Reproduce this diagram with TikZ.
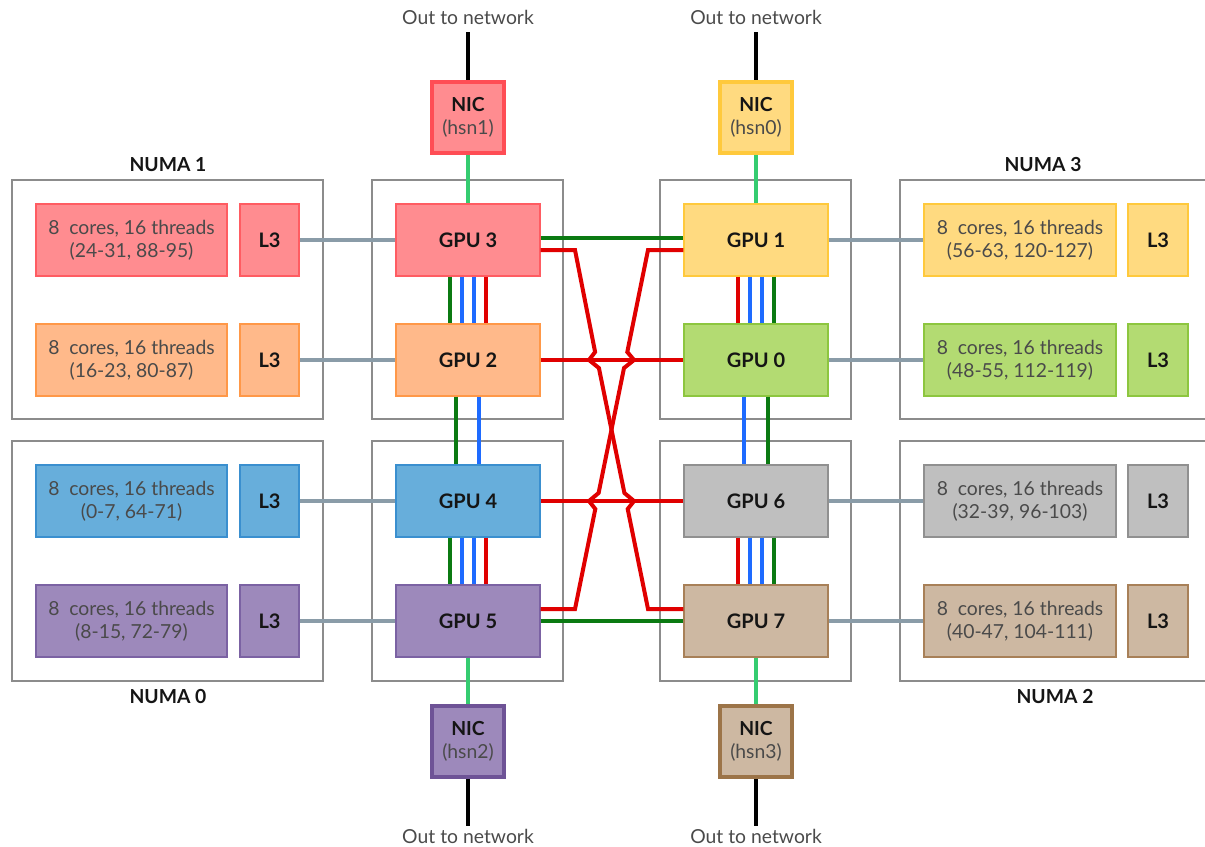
\documentclass[tikz,border=0pt]{standalone}
\usepackage{fontspec}
\setmainfont{Lato}
\usepackage{xcolor}
\usepackage{tikz}
\usetikzlibrary{positioning}
\definecolor{RedFill}{HTML}{FF8C90}
\definecolor{RedLine}{HTML}{FF5C62}
\definecolor{OrangeFill}{HTML}{FFB98A}
\definecolor{OrangeLine}{HTML}{FF9848}
\definecolor{BlueFill}{HTML}{67AEDB}
\definecolor{BlueLine}{HTML}{3A8FCF}
\definecolor{PurpleFill}{HTML}{9D89BB}
\definecolor{PurpleLine}{HTML}{7B62A3}
\definecolor{YellowFill}{HTML}{FFDA80}
\definecolor{YellowLine}{HTML}{FFC93C}
\definecolor{GreenFill}{HTML}{B3DB72}
\definecolor{GreenLine}{HTML}{8DC63F}
\definecolor{GrayFill}{HTML}{BFBFBF}
\definecolor{GrayLine}{HTML}{909090}
\definecolor{TanFill}{HTML}{CDB8A2}
\definecolor{TanLine}{HTML}{A88058}
\definecolor{RedNic}{HTML}{FF4D55}
\definecolor{PurpleNic}{HTML}{6E5396}
\definecolor{TanNic}{HTML}{9C7448}
\definecolor{LinkGreen}{HTML}{0B7A12}
\definecolor{LinkBlue}{HTML}{1E6BFF}
\definecolor{LinkRed}{HTML}{E00000}
\definecolor{NicGreen}{HTML}{35CC70}
\definecolor{LinkGray}{HTML}{8A9CA8}
\definecolor{FrameGray}{HTML}{8C8C8C}
\definecolor{CoreText}{HTML}{4A4A4A}
\definecolor{Ink}{HTML}{151515}

\begin{document}
\begin{tikzpicture}[x=0.75pt,y=-0.75pt,
  every node/.style={font=\fontsize{14.5}{17}\selectfont,text=Ink},
  unit/.style={draw,line width=1.5pt,inner sep=0pt,minimum height=53.5pt,align=center},
  coresbox/.style={unit,minimum width=143.5pt,text=CoreText},
  cachebox/.style={unit,minimum width=44.5pt,font=\fontsize{15}{17}\selectfont\bfseries},
  gpubox/.style={unit,minimum width=107.5pt,font=\fontsize{15}{17}\selectfont\bfseries},
  nicbox/.style={draw,line width=3pt,inner sep=0pt,minimum width=54pt,minimum height=53pt,align=center},
  frame/.style={draw=FrameGray,line width=1.5pt},
  numalabel/.style={font=\fontsize{14.5}{17}\selectfont\bfseries},
  netlabel/.style={text=CoreText},
  glink/.style={draw=LinkGreen,line width=3pt},
  blink/.style={draw=LinkBlue,line width=3pt},
  rlink/.style={draw=LinkRed,line width=3pt},
  niclink/.style={draw=NicGreen,line width=3pt},
  cpulink/.style={draw=LinkGray,line width=2.5pt},
  netlink/.style={draw=black,line width=3pt}]
  \useasboundingbox (0,0) rectangle (1205,846);

  % frames
  \draw[frame] (12,180) rectangle (323,419);
  \draw[frame] (12,441) rectangle (323,681);
  \draw[frame] (372,180) rectangle (563,419);
  \draw[frame] (372,441) rectangle (563,681);
  \draw[frame] (660,180) rectangle (851,419);
  \draw[frame] (660,441) rectangle (851,681);
  \draw[frame] (1210,180) -- (900,180) -- (900,419) -- (1210,419);
  \draw[frame] (1210,441) -- (900,441) -- (900,681) -- (1210,681);
  \node[numalabel] (numa1) at (168,165) {NUMA 1};
  \node[numalabel] (numa0) at (168,696) {NUMA 0};
  \node[numalabel] (numa3) at (1043,165) {NUMA 3};
  \node[numalabel] (numa2) at (1055,696) {NUMA 2};

  % cores and caches
  \node[coresbox,fill=RedFill,draw=RedLine] (c3) at (131.5,240) {8~ cores, 16 threads\\(24-31, 88-95)};
  \node[cachebox,fill=RedFill,draw=RedLine] (l3c3) at (269.5,240) {L3};
  \node[coresbox,fill=OrangeFill,draw=OrangeLine] (c2) at (131.5,360) {8~ cores, 16 threads\\(16-23, 80-87)};
  \node[cachebox,fill=OrangeFill,draw=OrangeLine] (l3c2) at (269.5,360) {L3};
  \node[coresbox,fill=BlueFill,draw=BlueLine] (c4) at (131.5,501) {8~ cores, 16 threads\\(0-7, 64-71)};
  \node[cachebox,fill=BlueFill,draw=BlueLine] (l3c4) at (269.5,501) {L3};
  \node[coresbox,fill=PurpleFill,draw=PurpleLine] (c5) at (131.5,621) {8~ cores, 16 threads\\(8-15, 72-79)};
  \node[cachebox,fill=PurpleFill,draw=PurpleLine] (l3c5) at (269.5,621) {L3};
  \node[coresbox,fill=YellowFill,draw=YellowLine] (c1) at (1020,240) {8~ cores, 16 threads\\(56-63, 120-127)};
  \node[cachebox,fill=YellowFill,draw=YellowLine] (l3c1) at (1158,240) {L3};
  \node[coresbox,fill=GreenFill,draw=GreenLine] (c0) at (1020,360) {8~ cores, 16 threads\\(48-55, 112-119)};
  \node[cachebox,fill=GreenFill,draw=GreenLine] (l3c0) at (1158,360) {L3};
  \node[coresbox,fill=GrayFill,draw=GrayLine] (c6) at (1020,501) {8~ cores, 16 threads\\(32-39, 96-103)};
  \node[cachebox,fill=GrayFill,draw=GrayLine] (l3c6) at (1158,501) {L3};
  \node[coresbox,fill=TanFill,draw=TanLine] (c7) at (1020,621) {8~ cores, 16 threads\\(40-47, 104-111)};
  \node[cachebox,fill=TanFill,draw=TanLine] (l3c7) at (1158,621) {L3};

  % gpus
  \node[gpubox,fill=RedFill,draw=RedLine] (g3) at (468,240) {GPU 3};
  \node[gpubox,fill=OrangeFill,draw=OrangeLine] (g2) at (468,360) {GPU 2};
  \node[gpubox,fill=BlueFill,draw=BlueLine] (g4) at (468,501) {GPU 4};
  \node[gpubox,fill=PurpleFill,draw=PurpleLine] (g5) at (468,621) {GPU 5};
  \node[gpubox,fill=YellowFill,draw=YellowLine] (g1) at (756,240) {GPU 1};
  \node[gpubox,fill=GreenFill,draw=GreenLine] (g0) at (756,360) {GPU 0};
  \node[gpubox,fill=GrayFill,draw=GrayLine] (g6) at (756,501) {GPU 6};
  \node[gpubox,fill=TanFill,draw=TanLine] (g7) at (756,621) {GPU 7};

  % nics
  \node[nicbox,fill=RedFill,draw=RedNic] (nic1) at (468,117.5) {\bfseries NIC\\{\color{CoreText}(hsn1)}};
  \node[nicbox,fill=YellowFill,draw=YellowLine] (nic0) at (756,117.5) {\bfseries NIC\\{\color{CoreText}(hsn0)}};
  \node[nicbox,fill=PurpleFill,draw=PurpleNic] (nic2) at (468,741.5) {\bfseries NIC\\{\color{CoreText}(hsn2)}};
  \node[nicbox,fill=TanFill,draw=TanNic] (nic3) at (756,741.5) {\bfseries NIC\\{\color{CoreText}(hsn3)}};
  \node[netlabel] (out1) at (468,17) {Out to network};
  \node[netlabel] (out0) at (756,17) {Out to network};
  \node[netlabel] (out2) at (468,836) {Out to network};
  \node[netlabel] (out3) at (756,836) {Out to network};
  \coordinate (net1) at (468,32);
  \coordinate (net0) at (756,32);
  \coordinate (net2) at (468,826);
  \coordinate (net3) at (756,826);
  \draw[netlink] (net1) -- (nic1.north);
  \draw[netlink] (net0) -- (nic0.north);
  \draw[netlink] (nic2.south) -- (net2);
  \draw[netlink] (nic3.south) -- (net3);
  \draw[niclink] (nic1.south) -- (g3.north);
  \draw[niclink] (nic0.south) -- (g1.north);
  \draw[niclink] (g5.south) -- (nic2.north);
  \draw[niclink] (g7.south) -- (nic3.north);

  % cpu to gpu
  \draw[cpulink] (l3c3.east) -- (g3.west);
  \draw[cpulink] (l3c2.east) -- (g2.west);
  \draw[cpulink] (l3c4.east) -- (g4.west);
  \draw[cpulink] (l3c5.east) -- (g5.west);
  \draw[cpulink] (g1.east) -- (c1.west);
  \draw[cpulink] (g0.east) -- (c0.west);
  \draw[cpulink] (g6.east) -- (c6.west);
  \draw[cpulink] (g7.east) -- (c7.west);

  % gpu to gpu, vertical
  \draw[glink] ([xshift=-13.5pt]g3.south) -- ([xshift=-13.5pt]g2.north);
  \draw[blink] ([xshift=-4.5pt]g3.south) -- ([xshift=-4.5pt]g2.north);
  \draw[blink] ([xshift=4.5pt]g3.south) -- ([xshift=4.5pt]g2.north);
  \draw[rlink] ([xshift=13.5pt]g3.south) -- ([xshift=13.5pt]g2.north);
  \draw[glink] ([xshift=-9pt]g2.south) -- ([xshift=-9pt]g4.north);
  \draw[blink] ([xshift=8.25pt]g2.south) -- ([xshift=8.25pt]g4.north);
  \draw[glink] ([xshift=-13.5pt]g4.south) -- ([xshift=-13.5pt]g5.north);
  \draw[blink] ([xshift=-4.5pt]g4.south) -- ([xshift=-4.5pt]g5.north);
  \draw[blink] ([xshift=4.5pt]g4.south) -- ([xshift=4.5pt]g5.north);
  \draw[rlink] ([xshift=13.5pt]g4.south) -- ([xshift=13.5pt]g5.north);
  \draw[rlink] ([xshift=-13.5pt]g1.south) -- ([xshift=-13.5pt]g0.north);
  \draw[blink] ([xshift=-4.5pt]g1.south) -- ([xshift=-4.5pt]g0.north);
  \draw[blink] ([xshift=4.5pt]g1.south) -- ([xshift=4.5pt]g0.north);
  \draw[glink] ([xshift=13.5pt]g1.south) -- ([xshift=13.5pt]g0.north);
  \draw[blink] ([xshift=-9pt]g0.south) -- ([xshift=-9pt]g6.north);
  \draw[glink] ([xshift=9pt]g0.south) -- ([xshift=9pt]g6.north);
  \draw[rlink] ([xshift=-13.5pt]g6.south) -- ([xshift=-13.5pt]g7.north);
  \draw[blink] ([xshift=-4.5pt]g6.south) -- ([xshift=-4.5pt]g7.north);
  \draw[blink] ([xshift=4.5pt]g6.south) -- ([xshift=4.5pt]g7.north);
  \draw[glink] ([xshift=13.5pt]g6.south) -- ([xshift=13.5pt]g7.north);

  % gpu to gpu, across
  \draw[glink] ([yshift=1.5pt]g3.east) -- ([yshift=1.5pt]g1.west);
  \draw[rlink] (g2.east) -- (g0.west);
  \draw[rlink] (g4.east) -- (g6.west);
  \draw[glink] (g5.east) -- (g7.west);
  % crossing links, hopping over the straight ones
  \draw[rlink,line join=miter] ([yshift=-7.5pt]g3.east) -- (575,250) -- (595.1,352)
    -- (589,360) -- (598.9,368) -- (624.4,493) -- (634,501) -- (627.7,509)
    -- (648,609) -- ([yshift=9pt]g7.west);
  \draw[rlink,line join=miter] ([yshift=9pt]g5.east) -- (575,609) -- (595.3,509)
    -- (589,501) -- (598.6,493) -- (624.0,368) -- (634,360) -- (627.3,352)
    -- (648,250) -- ([yshift=-7.5pt]g1.west);
\end{tikzpicture}
\end{document}
